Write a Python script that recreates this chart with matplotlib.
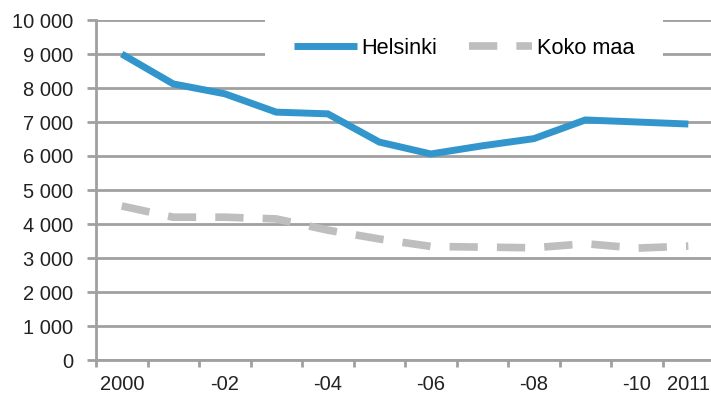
import matplotlib
matplotlib.use('Agg')
import matplotlib.pyplot as plt
from matplotlib.ticker import FuncFormatter

years = list(range(2000, 2012))
tick_labels = {0: '2000', 2: '-02', 4: '-04', 6: '-06', 8: '-08', 10: '-10', 11: '2011'}
helsinki = [9000, 8120, 7830, 7290, 7240, 6410, 6060, 6300, 6510, 7060, 7000, 6940]
koko_maa = [4530, 4200, 4200, 4150, 3820, 3560, 3340, 3320, 3300, 3420, 3290, 3350]

plt.rcParams['font.family'] = ['Liberation Sans', 'DejaVu Sans']
grid_col = '#a0a0a0'

fig = plt.figure(figsize=(7.11, 3.94), dpi=100)
ax = fig.add_axes([96/711, 34/394, 615/711, 340/394])

x = list(range(len(years)))
ax.plot(x, helsinki, color='#3296cd', linewidth=5, solid_capstyle='butt',
        solid_joinstyle='miter', label='Helsinki', zorder=3)
ln, = ax.plot(x, koko_maa, color='#bebebe', linewidth=5.5, dash_capstyle='butt',
              label='Koko maa', zorder=3)
ln.set_dashes((3.7, 2.5))

ax.set_ylim(0, 10000)
ax.set_xlim(-0.5, 11.44)
ax.set_yticks(range(0, 10001, 1000))
ax.yaxis.set_major_formatter(FuncFormatter(lambda v, p: '{:,.0f}'.format(v).replace(',', ' ')))
ax.set_xticks(list(tick_labels.keys()))
ax.set_xticklabels(list(tick_labels.values()))
ax.set_xticks([i - 0.5 for i in range(12)], minor=True)
ax.tick_params(axis='x', which='major', length=0, pad=11, labelsize=14.5, labelcolor='#222222')
ax.tick_params(axis='x', which='minor', length=5, width=2, color=grid_col, direction='out')
ax.tick_params(axis='y', length=6.5, width=2, color=grid_col, pad=10, labelsize=14.5,
               labelcolor='#222222')

ax.grid(axis='y', color=grid_col, linewidth=2)
ax.set_axisbelow(True)
for s in ['top', 'right']:
    ax.spines[s].set_visible(False)
for s in ['left', 'bottom']:
    ax.spines[s].set_color(grid_col)
    ax.spines[s].set_linewidth(2)

leg = ax.legend(loc='center', bbox_to_anchor=((464 - 96) / 615, (360 - 48) / 340),
                ncol=2, frameon=True, facecolor='white', edgecolor='none', fancybox=False,
                fontsize=15.7, handlelength=2.9, handletextpad=0.2, columnspacing=1.47,
                borderpad=1.3, framealpha=1)
leg.set_zorder(5)

fig.savefig('out.png', dpi=100)
